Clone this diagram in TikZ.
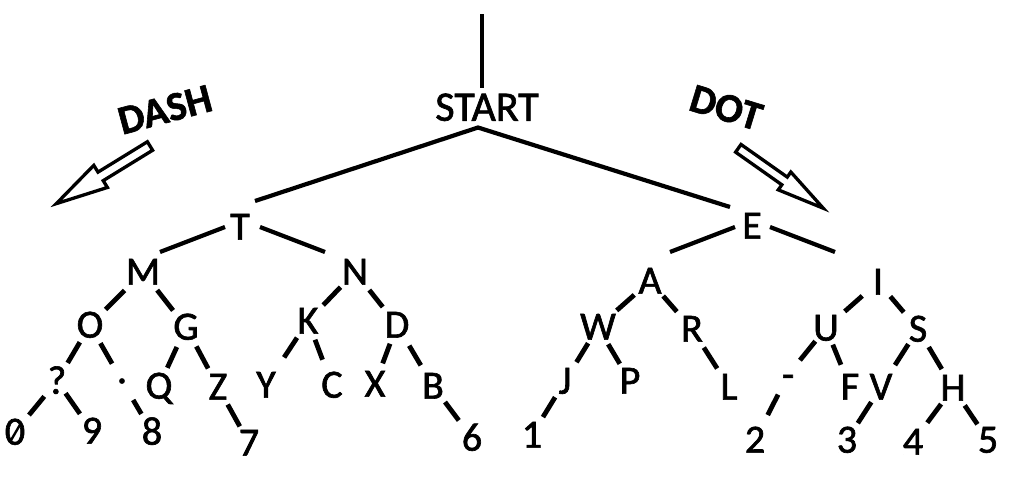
\documentclass[tikz,border=0pt]{standalone}
\usepackage{fontspec}
\setmainfont{Carlito}
\newfontfamily\treefont{Carlito}[FakeBold=1.6]
\newfontfamily\titlefont{Carlito Bold}[FakeBold=1.4]
\usetikzlibrary{calc}
\begin{document}
\begin{tikzpicture}[x=1pt,y=-1pt,
  lab/.style={inner sep=0pt, font=\fontsize{40}{44}\treefont, text height=25.3pt, text depth=0pt},
  sym/.style={inner sep=0pt, font=\fontsize{40}{44}\treefont},
  head/.style={inner sep=0pt, font=\fontsize{42}{46}\treefont, text height=26.5pt, text depth=0pt},
  title/.style={inner sep=0pt, font=\fontsize{41}{45}\titlefont, text height=25.9pt, text depth=0pt},
  trunk/.style={line width=4.2pt},
  twig/.style 2 args={line width=4.8pt, shorten <=#1pt, shorten >=#2pt},
  hollow/.style={line width=3.3pt, fill=white, line join=miter},
]
\useasboundingbox (0,0) rectangle (1009,499);

% root
\node[head] (START) at (487,107.5) {START};
\coordinate (top) at (482,14);
\coordinate (apex) at ($(START.center)+(-9,20)$);

% level 1 and 2
\node[lab] (T) at (240,227) {T};
\node[lab] (E) at (752,226) {E};
\node[lab] (M) at (143,272) {M};
\node[lab] (N) at (355,272) {N};
\node[lab] (A) at (650,281) {A};
\node[lab] (I) at (878,282) {I};

% level 3
\node[lab] (O) at (90,325) {O};
\node[lab] (G) at (186,327) {G};
\node[lab] (K) at (308,321) {K};
\node[lab] (D) at (397,325) {D};
\node[lab] (W) at (598,327) {W};
\node[lab] (R) at (692,329) {R};
\node[lab] (U) at (826,328) {U};
\node[lab] (S) at (918,329) {S};

% level 4
\node[lab] (qm) at (57,381) {?};
\node[sym] (pt) at (122,381) {.};
\node[lab] (Q) at (159,386) {Q};
\node[lab] (Z) at (218,387) {Z};
\node[lab] (Y) at (266,385) {Y};
\node[lab] (C) at (332,385) {C};
\node[lab] (X) at (375,384) {X};
\node[lab] (B) at (433,386) {B};
\node[lab] (J) at (565,381) {J};
\node[lab] (P) at (630,381) {P};
\node[lab] (L) at (729,387) {L};
\node[lab] (hy) at (788,375) {-};
\node[lab] (F) at (850,387) {F};
\node[lab] (V) at (881,387) {V};
\node[lab] (H) at (953,388) {H};

% level 5
\node[lab] (d0) at (15,432) {0};
\node[lab] (d9) at (92,431) {9};
\node[lab] (d8) at (152,432) {8};
\node[lab] (d7) at (249,443) {7};
\node[lab] (d6) at (472,438) {6};
\node[lab] (d1) at (532,435) {1};
\node[lab] (d2) at (755,440) {2};
\node[lab] (d3) at (847,440) {3};
\node[lab] (d4) at (913,442) {4};
\node[lab] (d5) at (988,440) {5};
% stroke through the zero
\draw[line width=2.4pt] ($(d0.center)+(6,-9)$) -- ($(d0.center)+(-5,10)$);

% trunk and main branches
\draw[trunk, shorten >=19.5pt] (top) -- (top |- START.center);
\draw[trunk, line join=miter] ($(T.center)+(15,-26)$) -- (apex) -- ($(E.center)+(-22,-19)$);
\draw[trunk] ($(T.center)+(-15,0)$) -- ($(M.center)+(17,-20)$);
\draw[trunk] ($(T.center)+(20,0)$) -- ($(N.center)+(-30,-20)$);
\draw[trunk] ($(E.center)+(-17,1)$) -- ($(A.center)+(20,-29)$);
\draw[trunk] ($(E.center)+(18,1)$) -- ($(I.center)+(-43,-30)$);

% dash side
\draw[twig={26}{22}] (M.center) -- (O.center);
\draw[twig={23}{21}] (M.center) -- (G.center);
\draw[twig={20}{21}] (O.center) -- (qm.center);
\draw[twig={21}{20}] (O.center) -- (pt.center);
\draw[twig={20}{22}] (qm.center) -- (d0.center);
\draw[twig={15}{21}] (qm.center) -- (d9.center);
\draw[twig={22}{21}] (pt.center) -- (d8.center);
\draw[twig={22}{20}] (G.center) -- (Q.center);
\draw[twig={22}{21}] (G.center) -- (Z.center);
\draw[twig={20}{19}] (Z.center) -- (d7.center);
\draw[twig={21}{22}] (N.center) -- (K.center);
\draw[twig={23}{23}] (N.center) -- (D.center);
\draw[twig={20}{33}] (K.center) -- (Y.center);
\draw[twig={20}{27}] (K.center) -- (C.center);
\draw[twig={20}{22}] (D.center) -- (X.center);
\draw[twig={24}{24}] (D.center) -- (B.center);
\draw[twig={20}{22}] (B.center) -- (d6.center);

% dot side
\draw[twig={21}{25}] (A.center) -- (W.center);
\draw[twig={20}{23}] (A.center) -- (R.center);
\draw[twig={19}{22}] (W.center) -- (J.center);
\draw[twig={20}{20}] (W.center) -- (P.center);
\draw[twig={22}{22}] (R.center) -- (L.center);
\draw[twig={19}{21}] (J.center) -- (d1.center);
\draw[twig={21}{25}] (I.center) -- (U.center);
\draw[twig={19}{22}] (I.center) -- (S.center);
\draw[twig={17}{19}] (U.center) -- (hy.center);
\draw[twig={18}{24}] (U.center) -- (F.center);
\draw[twig={22}{28}] (hy.center) -- (d2.center);
\draw[twig={18}{26}] (S.center) -- (V.center);
\draw[twig={21}{22}] (S.center) -- (H.center);
\draw[twig={18}{20}] (V.center) -- (d3.center);
\draw[twig={20}{24}] (H.center) -- (d4.center);
\draw[twig={21}{19}] (H.center) -- (d5.center);

% direction labels with hollow arrows
\node[title, rotate=15] (dash) at (165,110) {DASH};
\node[title, rotate=-17] (dot) at (726,108) {DOT};
\begin{scope}[shift={(150,146)}, rotate=211.6]
  \draw[hollow] (0,5) -- (58,5) -- (58,13) -- (110,0) -- (58,-13) -- (58,-5) -- (0,-5) -- cycle;
\end{scope}
\begin{scope}[shift={(738.3,148.3)}, rotate=-35.2]
  \draw[hollow] (0,4.7) -- (56.6,4.7) -- (56.6,10.9) -- (104,0) -- (56.6,-10.9) -- (56.6,-4.7) -- (0,-4.7) -- cycle;
\end{scope}
\end{tikzpicture}
\end{document}
